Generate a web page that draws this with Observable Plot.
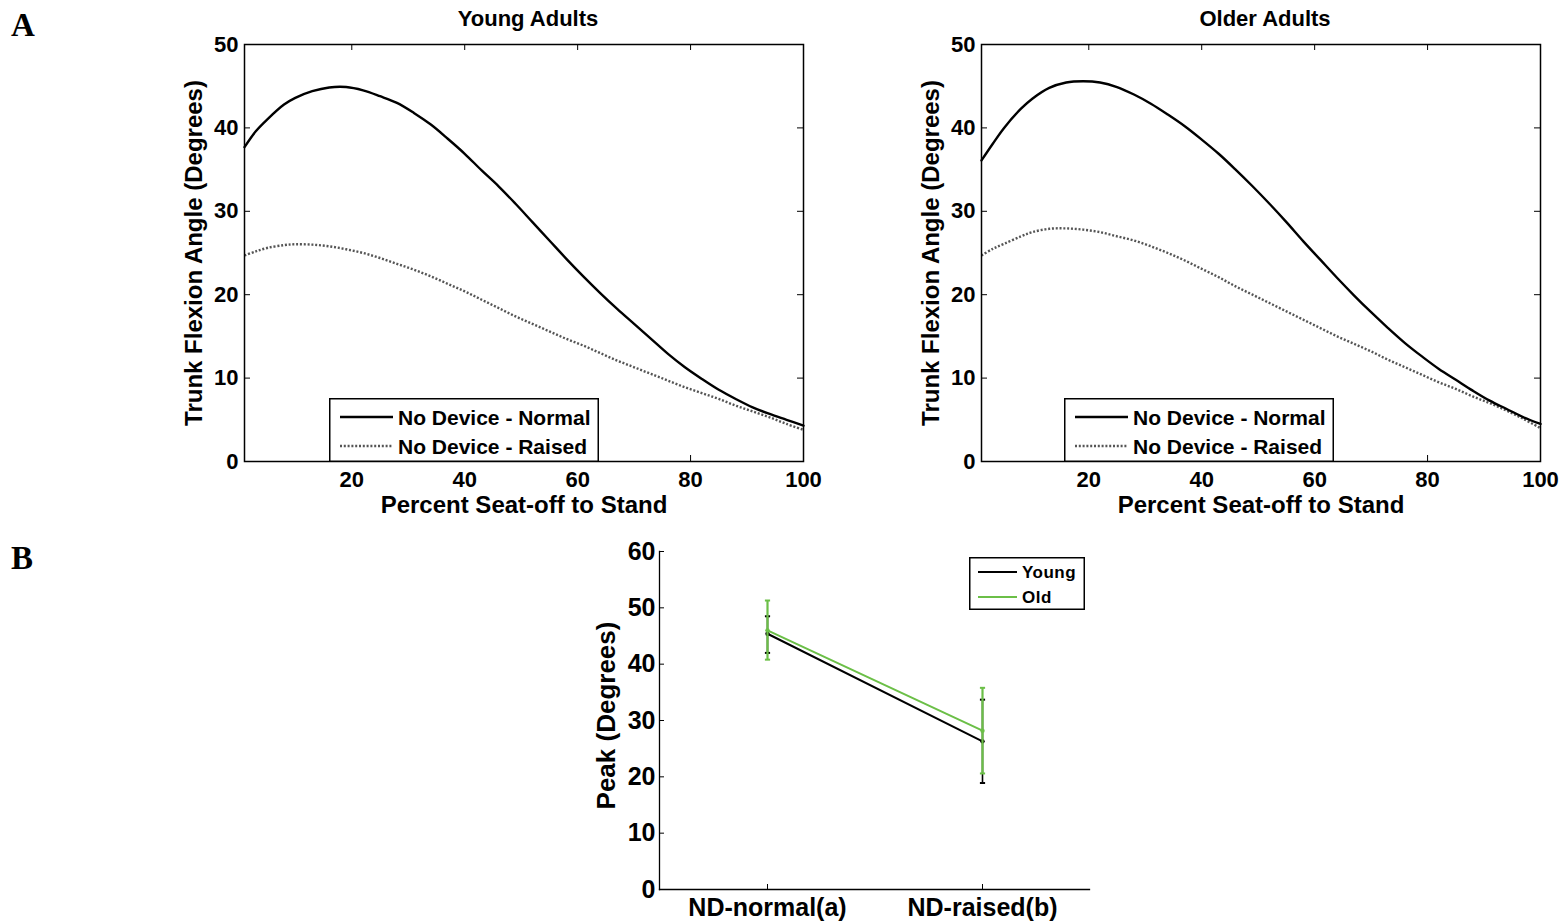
<!DOCTYPE html>
<html>
<head>
<meta charset="utf-8">
<script src="https://cdn.jsdelivr.net/npm/d3@7"></script>
<script src="https://cdn.jsdelivr.net/npm/@observablehq/plot@0.6"></script>
<style>
  body { margin: 0; background: #fff; }
  #wrap { position: relative; width: 1565px; height: 924px; background: #fff; overflow: hidden;
          font-family: "Liberation Sans", Arial, sans-serif; font-weight: bold; }
  #wrap > svg, #wrap > div { position: absolute; }
  .letter { font-family: "Liberation Serif", "Times New Roman", serif; font-weight: bold;
            font-size: 33px; line-height: 33px; }
</style>
</head>
<body>
<div id="wrap"></div>
<script>
// ---------------- DATA ----------------
const pct = [1, 3, 5, 8, 10, 13, 16, 19, 22, 25, 28, 31, 34, 37, 40, 43, 46, 49, 52, 55,
             58, 61, 64, 67, 70, 73, 76, 79, 82, 85, 88, 91, 94, 97, 100];

const youngNormal = [37.7, 39.6, 41.0, 42.8, 43.6, 44.4, 44.85, 44.9, 44.5, 43.8, 43.0, 41.8,
                     40.4, 38.7, 36.9, 34.9, 33.0, 30.9, 28.7, 26.5, 24.3, 22.2, 20.2, 18.3,
                     16.5, 14.7, 12.9, 11.3, 9.9, 8.6, 7.5, 6.5, 5.7, 5.0, 4.3];
const youngRaised = [24.7, 25.2, 25.6, 25.95, 26.05, 26.0, 25.8, 25.45, 25.0, 24.4, 23.7, 23.0,
                     22.2, 21.3, 20.4, 19.4, 18.4, 17.4, 16.5, 15.6, 14.7, 13.9, 13.0, 12.1,
                     11.3, 10.5, 9.7, 8.9, 8.2, 7.5, 6.7, 6.0, 5.3, 4.5, 3.8];
const olderNormal = [36.1, 38.1, 40.0, 42.3, 43.5, 44.8, 45.45, 45.6, 45.45, 44.9, 44.0, 42.9,
                     41.6, 40.2, 38.6, 36.9, 35.0, 33.0, 30.9, 28.7, 26.4, 24.2, 22.0, 19.9,
                     17.9, 16.0, 14.2, 12.6, 11.1, 9.8, 8.5, 7.3, 6.3, 5.3, 4.5];
const olderRaised = [24.7, 25.5, 26.1, 27.0, 27.5, 27.9, 27.95, 27.8, 27.5, 27.0, 26.5, 25.8,
                     25.0, 24.1, 23.1, 22.1, 21.0, 20.0, 19.0, 18.0, 17.0, 16.0, 15.0, 14.1,
                     13.2, 12.2, 11.3, 10.4, 9.5, 8.7, 7.8, 7.0, 6.1, 5.1, 4.0];

const seriesNames = ["No Device - Normal", "No Device - Raised"];
const panelTitles = ["Young Adults", "Older Adults"];
const xTicksA = [20, 40, 60, 80, 100];
const yTicksA = [0, 10, 20, 30, 40, 50];
const xLabelA = "Percent Seat-off to Stand";
const yLabelA = "Trunk Flexion Angle (Degrees)";

const conditions = ["ND-normal(a)", "ND-raised(b)"];
const groups = ["Young", "Old"];
const youngPeak = [45.4, 26.3];
const youngLo   = [42.0, 18.9];
const youngHi   = [48.5, 33.7];
const oldPeak   = [46.0, 28.2];
const oldLo     = [40.8, 20.6];
const oldHi     = [51.3, 35.8];
const yTicksB = [0, 10, 20, 30, 40, 50, 60];
const yLabelB = "Peak (Degrees)";

// ---------------- STYLE ----------------
const FONT = '"Liberation Sans", Arial, sans-serif';
const GREEN = "#6bbf47";
const DOT_GRAY = "#555555";
const DASH = "2,1.8";
const wrap = document.getElementById("wrap");

function place(node, left, top) {
  node.style.left = left + "px";
  node.style.top = top + "px";
  wrap.appendChild(node);
  return node;
}

// ---------------- PANEL A ----------------
function curvePanel(title, normal, raised, svgLeft) {
  const W = 830, H = 530, mL = 244, mR = 27, mT = 44, mB = 69;
  const innerW = W - mL - mR, innerH = H - mT - mB;
  const nRows = pct.map((p, i) => ({pct: p, angle: normal[i]}));
  const rRows = pct.map((p, i) => ({pct: p, angle: raised[i]}));
  const svg = Plot.plot({
    width: W, height: H, marginLeft: mL, marginRight: mR, marginTop: mT, marginBottom: mB,
    style: {fontFamily: FONT, fontWeight: "bold", fontSize: "22px", color: "black", background: "transparent", overflow: "visible"},
    x: {domain: [1, 100], label: null},
    y: {domain: [0, 50], label: null},
    marks: [
      Plot.line(rRows, {x: "pct", y: "angle", stroke: DOT_GRAY, strokeWidth: 2.4, strokeDasharray: DASH, strokeLinecap: "butt", curve: "catmull-rom"}),
      Plot.line(nRows, {x: "pct", y: "angle", stroke: "black", strokeWidth: 2.4, curve: "catmull-rom"}),
      Plot.frame({stroke: "black", strokeWidth: 1.5}),
      Plot.tickX(xTicksA, {x: d => d, insetTop: innerH - 6, stroke: "black"}),
      Plot.tickX(xTicksA, {x: d => d, insetBottom: innerH - 6, stroke: "black"}),
      Plot.tickY(yTicksA, {y: d => d, insetRight: innerW - 6, stroke: "black"}),
      Plot.tickY(yTicksA, {y: d => d, insetLeft: innerW - 6, stroke: "black"}),
      Plot.axisX(xTicksA, {tickSize: 0, tickPadding: 10, label: null, fontSize: 22}),
      Plot.axisY(yTicksA, {tickSize: 0, tickPadding: 6, label: null, fontSize: 22}),
      Plot.text([xLabelA], {frameAnchor: "bottom", dy: 44, textAnchor: "middle", lineAnchor: "middle", fontSize: 24, fill: "black"}),
      Plot.text([yLabelA], {frameAnchor: "left", dx: -50, rotate: -90, textAnchor: "middle", lineAnchor: "middle", fontSize: 24, fill: "black"}),
      Plot.text([title], {frameAnchor: "top", dy: -26, dx: 4, textAnchor: "middle", lineAnchor: "middle", fontSize: 22, fill: "black"})
    ]
  });
  return place(svg, svgLeft, 0);
}

function legendA(left) {
  const w = 270, h = 64;
  const svg = d3.create("svg").attr("width", w).attr("height", h)
    .style("font-family", FONT).style("font-weight", "bold").style("font-size", "21px");
  svg.append("rect").attr("x", 0.75).attr("y", 0.75).attr("width", w - 1.5).attr("height", h - 1.5)
    .attr("fill", "white").attr("stroke", "black").attr("stroke-width", 1.5);
  const rows = [{name: seriesNames[0], dash: null, color: "black", cy: 19},
                {name: seriesNames[1], dash: DASH, color: DOT_GRAY, cy: 48}];
  for (const r of rows) {
    svg.append("line").attr("x1", 11).attr("x2", 64).attr("y1", r.cy).attr("y2", r.cy)
      .attr("stroke", r.color).attr("stroke-width", 2.3).attr("stroke-dasharray", r.dash);
    svg.append("text").attr("x", 69).attr("y", r.cy).attr("dy", "0.36em").text(r.name);
  }
  place(svg.node(), left, 398);
}

curvePanel(panelTitles[0], youngNormal, youngRaised, 0);
curvePanel(panelTitles[1], olderNormal, olderRaised, 737);
legendA(329);
legendA(1064);

// ---------------- PANEL B ----------------
const capSymbol = {
  draw(context, size) {
    const w = Math.sqrt(size / Math.PI);
    context.moveTo(-w, 0);
    context.lineTo(w, 0);
  }
};
const bRows = [];
conditions.forEach((c, i) => {
  bRows.push({cond: c, group: groups[0], mean: youngPeak[i], lo: youngLo[i], hi: youngHi[i]});
  bRows.push({cond: c, group: groups[1], mean: oldPeak[i], lo: oldLo[i], hi: oldHi[i]});
});
const groupColor = {Young: "black", Old: GREEN};
const groupMarks = groups.flatMap(g => {
  const rows = bRows.filter(d => d.group === g);
  const col = groupColor[g];
  return [
    Plot.ruleX(rows, {x: "cond", y1: "lo", y2: "hi", stroke: col, strokeWidth: g === "Old" ? 2.2 : 1.6}),
    Plot.dot(rows, {x: "cond", y: "lo", symbol: capSymbol, r: 2.6, stroke: col, strokeWidth: 2}),
    Plot.dot(rows, {x: "cond", y: "hi", symbol: capSymbol, r: 2.6, stroke: col, strokeWidth: 2}),
    Plot.line(rows, {x: "cond", y: "mean", stroke: col, strokeWidth: 2}),
    Plot.dot(rows, {x: "cond", y: "mean", r: 2.2, fill: col, stroke: null})
  ];
});
{
  const W = 580, H = 404, mL = 119, mR = 31, mT = 31, mB = 35;
  const innerW = W - mL - mR, innerH = H - mT - mB;
  const svg = Plot.plot({
    width: W, height: H, marginLeft: mL, marginRight: mR, marginTop: mT, marginBottom: mB,
    style: {fontFamily: FONT, fontWeight: "bold", fontSize: "25px", color: "black", background: "transparent", overflow: "visible"},
    x: {type: "point", domain: conditions, padding: 0.5, label: null},
    y: {domain: [0, 60], label: null},
    marks: [
      Plot.frame({anchor: "left", stroke: "black", strokeWidth: 1.3}),
      Plot.frame({anchor: "bottom", stroke: "black", strokeWidth: 1.3}),
      Plot.tickY(yTicksB, {y: d => d, insetRight: innerW - 5, stroke: "black"}),
      Plot.tickX(conditions, {x: d => d, insetTop: innerH - 5, stroke: "black"}),
      Plot.axisX({tickSize: 0, tickPadding: 9, label: null, fontSize: 25}),
      Plot.axisY(yTicksB, {tickSize: 0, tickPadding: 4, label: null, fontSize: 25}),
      ...groupMarks,
      Plot.text([yLabelB], {frameAnchor: "left", dx: -53, dy: -5, rotate: -90, textAnchor: "middle", lineAnchor: "middle", fontSize: 26, fill: "black"})
    ]
  });
  place(svg, 540, 520);
}
{
  const w = 116, h = 53;
  const svg = d3.create("svg").attr("width", w).attr("height", h)
    .style("font-family", FONT).style("font-weight", "bold").style("font-size", "17px");
  svg.append("rect").attr("x", 0.75).attr("y", 0.75).attr("width", w - 1.5).attr("height", h - 1.5)
    .attr("fill", "white").attr("stroke", "black").attr("stroke-width", 1.5);
  groups.forEach((g, i) => {
    const cy = 15 + i * 25;
    svg.append("line").attr("x1", 9).attr("x2", 48).attr("y1", cy).attr("y2", cy)
      .attr("stroke", groupColor[g]).attr("stroke-width", 1.8);
    svg.append("text").attr("x", 53).attr("y", cy).attr("dy", "0.36em").style("letter-spacing", "0.5px").text(g);
  });
  place(svg.node(), 969, 557);
}

// panel letters
for (const [t, top] of [["A", 9], ["B", 542]]) {
  const d = document.createElement("div");
  d.className = "letter";
  d.textContent = t;
  place(d, 11, top);
}
</script>
</body>
</html>
